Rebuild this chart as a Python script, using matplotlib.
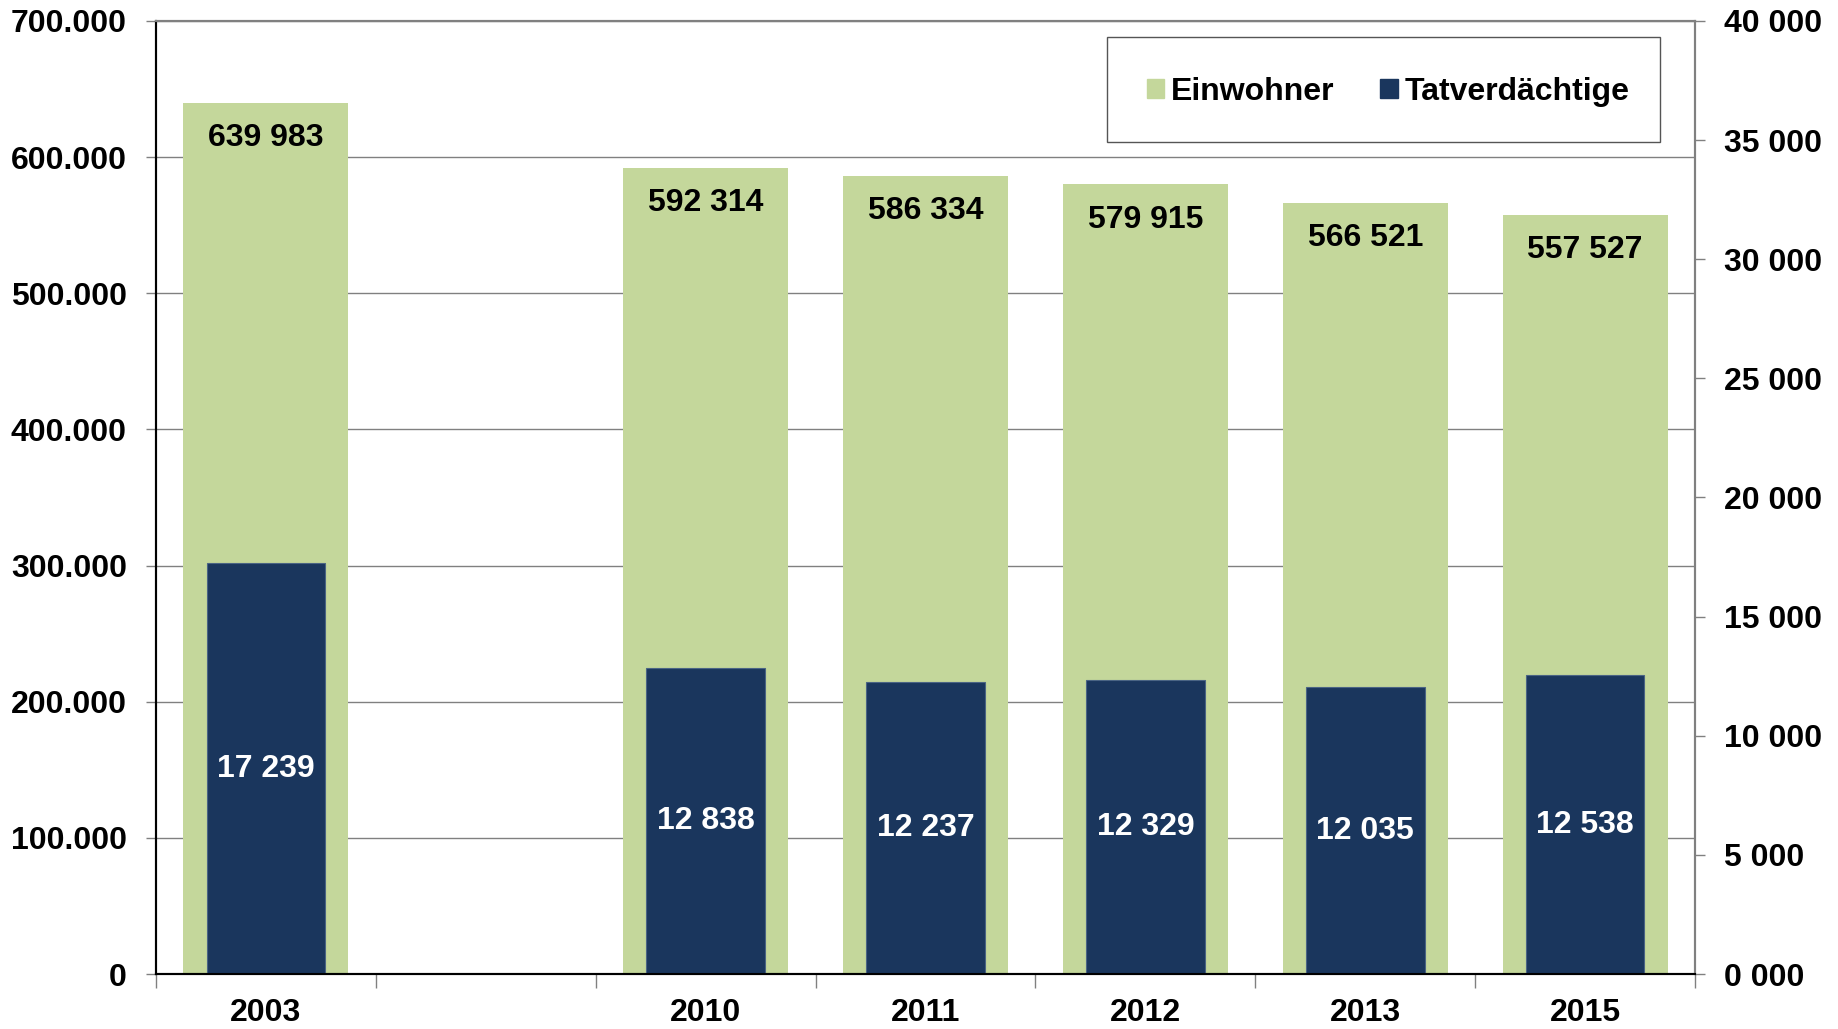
import matplotlib as mpl
import matplotlib.pyplot as plt
from matplotlib.ticker import FuncFormatter, FixedLocator, MultipleLocator
from matplotlib.patches import Rectangle, Patch
import numpy as np

mpl.rcParams['font.family'] = ['Liberation Sans', 'DejaVu Sans']
mpl.rcParams['font.weight'] = 'bold'

years = ['2003', '', '2010', '2011', '2012', '2013', '2015']
einwohner = [639983, None, 592314, 586334, 579915, 566521, 557527]
tatverdaechtige = [17239, None, 12838, 12237, 12329, 12035, 12538]

green = '#c4d79b'
navy = '#1a365d'
grid_gray = '#808080'
fs = 23

x = np.arange(len(years))
idx = [i for i, v in enumerate(einwohner) if v is not None]
ew = [einwohner[i] for i in idx]
tv = [tatverdaechtige[i] for i in idx]

fig = plt.figure(figsize=(18.38, 10.29), dpi=100)
ax = fig.add_axes([156 / 1838, 1 - 974 / 1029, 1539 / 1838, 953 / 1029])
ax2 = ax.twinx()

# population bars (left axis)
bars1 = ax.bar(x[idx], ew, 0.75, color=green, zorder=2)
for rect, v in zip(bars1, ew):
    ax.annotate(f'{v:,}'.replace(',', ' '), (rect.get_x() + rect.get_width() / 2, v),
                xytext=(0, -25.5), textcoords='offset points', ha='center', va='center',
                fontsize=fs, fontweight='bold', color='black')

# suspects bars (right axis)
bars2 = ax2.bar(x[idx], tv, 0.54, color=navy, edgecolor='#4a6484', linewidth=0.8, zorder=2)
for rect, v in zip(bars2, tv):
    ax2.text(rect.get_x() + rect.get_width() / 2, v / 2, f'{v:,}'.replace(',', ' '),
             ha='center', va='center', fontsize=fs, fontweight='bold', color='white')

ax.set_xlim(-0.5, len(years) - 0.5)
ax.set_ylim(0, 700000)
ax2.set_ylim(0, 40000)

ax.yaxis.set_major_locator(MultipleLocator(100000))
ax.yaxis.set_major_formatter(FuncFormatter(lambda v, p: f'{v:,.0f}'.replace(',', '.')))
ax2.yaxis.set_major_locator(MultipleLocator(5000))
ax2.yaxis.set_major_formatter(FuncFormatter(lambda v, p: f'{int(v) // 1000} {int(v) % 1000:03d}'))

# x: tick marks between categories, labels at centres
ax.xaxis.set_major_locator(FixedLocator(np.arange(len(years) + 1) - 0.5))
ax.xaxis.set_major_formatter(FuncFormatter(lambda v, p: ''))
ax.xaxis.set_minor_locator(FixedLocator(x))
ax.set_xticklabels(years, minor=True)
ax.tick_params(axis='x', which='major', length=10, width=1, color=grid_gray)
ax.tick_params(axis='x', which='minor', length=0, pad=17, labelsize=fs)

ax.tick_params(axis='y', length=7, width=1, color=grid_gray, pad=14, labelsize=fs)
ax2.tick_params(axis='y', length=7, width=1, color=grid_gray, pad=14, labelsize=fs)
for lab in ax.get_yticklabels() + ax2.get_yticklabels() + ax.get_xticklabels(minor=True):
    lab.set_fontweight('bold')

ax.grid(axis='y', color=grid_gray, linewidth=1)
ax.set_axisbelow(True)

for a in (ax, ax2):
    a.spines['left'].set_color('black')
    a.spines['left'].set_linewidth(1.5)
    a.spines['bottom'].set_color('black')
    a.spines['bottom'].set_linewidth(1.5)
    a.spines['top'].set_color(grid_gray)
    a.spines['top'].set_linewidth(1.5)
    a.spines['right'].set_color(grid_gray)
    a.spines['right'].set_linewidth(1.5)

# legend with its own box
ax2.add_patch(Rectangle((0.618, 0.873), 0.359, 0.110, transform=ax2.transAxes,
                        facecolor='white', edgecolor='#555555', linewidth=1, zorder=5))
handles = [Patch(color=green, label='Einwohner'), Patch(color=navy, label='Tatverdächtige')]
leg = ax2.legend(handles=handles, loc='center', bbox_to_anchor=(0.8005, 0.926), ncol=2,
                 frameon=False, handlelength=0.55, handleheight=0.55,
                 handletextpad=0.2, columnspacing=1.45, prop={'weight': 'bold', 'size': fs})
leg.set_zorder(6)

plt.savefig('out.png', dpi=100)
